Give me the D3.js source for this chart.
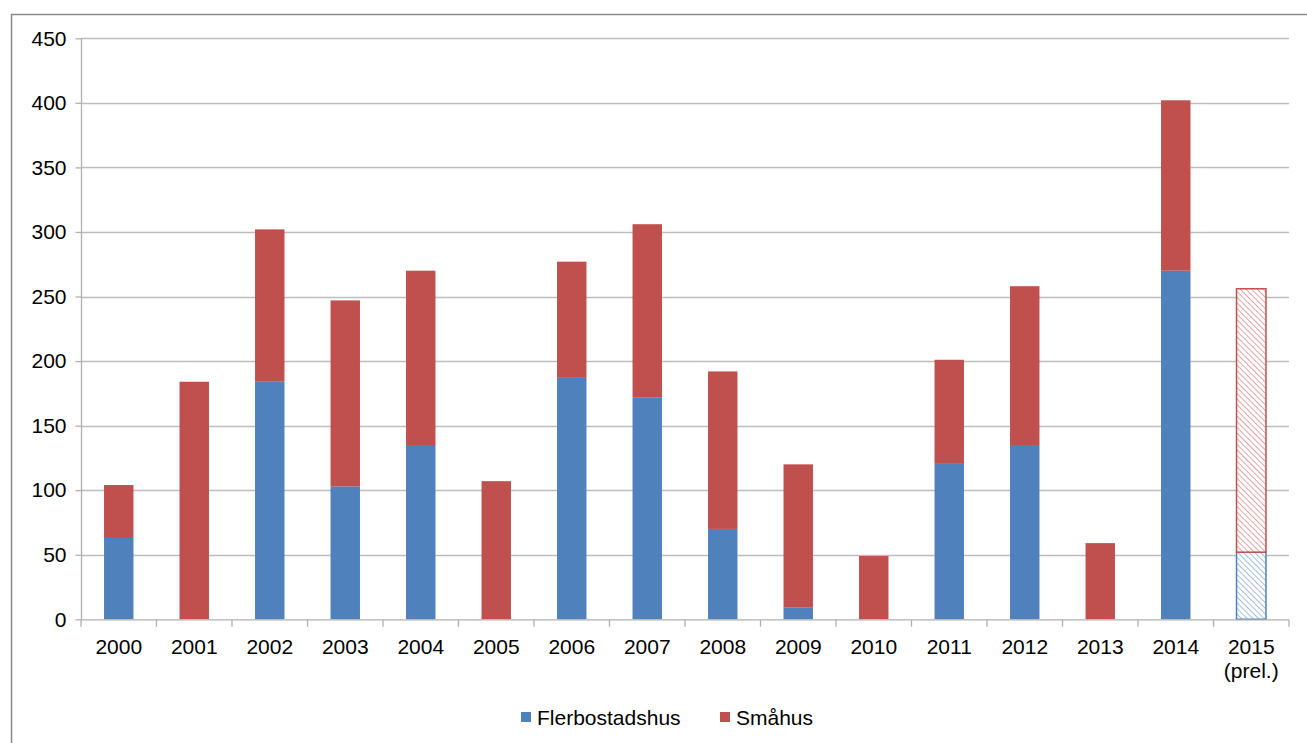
<!DOCTYPE html>
<html>
<head>
<meta charset="utf-8">
<script src="https://cdn.jsdelivr.net/npm/d3@7"></script>
<style>
  body { margin: 0; background: #fff; }
  svg text { font-family: "Liberation Sans", Arial, sans-serif; fill: #000; }
</style>
</head>
<body>
<svg width="1307" height="743"></svg>
<script>
var years = ["2000","2001","2002","2003","2004","2005","2006","2007","2008","2009","2010","2011","2012","2013","2014","2015"];
var flerbostadshus = [63, 0, 184, 103, 135, 0, 187, 172, 70, 9, 0, 121, 135, 0, 270, 52];
var smahus = [41, 184, 118, 144, 135, 107, 90, 134, 122, 111, 49, 80, 123, 59, 132, 204];
var prelYear = "2015";
var yTicks = [0, 50, 100, 150, 200, 250, 300, 350, 400, 450];

var blue = "#4F81BD", red = "#C0504D";

var svg = d3.select("svg");

// outer frame
svg.append("rect")
    .attr("x", 11.5).attr("y", 14.5)
    .attr("width", 1310).attr("height", 740)
    .attr("fill", "none")
    .attr("stroke", "#8a8a8a")
    .attr("stroke-width", 1.5);

var plotL = 81, plotR = 1289, plotT = 38.3, plotB = 619.3;

var x = d3.scaleBand().domain(years).range([plotL, plotR]).paddingInner(0.61).paddingOuter(0.305);
var xb = d3.scaleBand().domain(years).range([plotL, plotR]);
var y = d3.scaleLinear().domain([0, 450]).range([plotB, plotT]);

// hatch patterns
var defs = svg.append("defs");
function hatch(id, col) {
  var p = defs.append("pattern")
      .attr("id", id)
      .attr("patternUnits", "userSpaceOnUse")
      .attr("width", 4).attr("height", 4)
      .attr("patternTransform", "rotate(-45)");
  p.append("rect").attr("width", 4).attr("height", 4).attr("fill", "#fff");
  p.append("line").attr("x1", 0).attr("y1", 0).attr("x2", 0).attr("y2", 4)
      .attr("stroke", col).attr("stroke-width", 1.4).attr("stroke-opacity", 0.75);
}
hatch("hatchBlue", blue);
hatch("hatchRed", red);

// gridlines
svg.append("g").selectAll("line")
    .data(yTicks.filter(function(d) { return d > 0; }))
    .enter().append("line")
      .attr("x1", plotL).attr("x2", plotR)
      .attr("y1", function(d) { return Math.round(y(d)) + 0.5; })
      .attr("y2", function(d) { return Math.round(y(d)) + 0.5; })
      .attr("stroke", "#bdbdbd").attr("stroke-width", 1.3);

// y axis
var yAxis = svg.append("g")
    .attr("transform", "translate(" + (plotL + 0.5) + ",0)")
    .call(d3.axisLeft(y).tickValues(yTicks).tickSize(6).tickPadding(9));
yAxis.selectAll("text").style("font-size", "21px");
yAxis.selectAll("line, path").attr("stroke", "#b0b0b0").attr("stroke-width", 1.3);
yAxis.select("path").attr("d", "M0," + plotT + "V" + plotB);

// stacks
var rows = years.map(function(yr, i) {
  return { year: yr, fler: flerbostadshus[i], sma: smahus[i] };
});
var stack = d3.stack().keys(["fler", "sma"]);
var series = stack(rows);

var gBars = svg.append("g");
series.forEach(function(s) {
  var col = s.key === "fler" ? blue : red;
  var hid = s.key === "fler" ? "url(#hatchBlue)" : "url(#hatchRed)";
  gBars.append("g").selectAll("rect")
    .data(s.filter(function(d) { return d[1] - d[0] > 0; }))
    .enter().append("rect")
      .attr("x", function(d) { return x(d.data.year); })
      .attr("width", x.bandwidth())
      .attr("y", function(d) { return y(d[1]); })
      .attr("height", function(d) { return y(d[0]) - y(d[1]); })
      .attr("fill", function(d) { return d.data.year === prelYear ? hid : col; })
      .attr("stroke", function(d) { return d.data.year === prelYear ? col : "none"; })
      .attr("stroke-width", 1.5);
});

// x axis
var xAxis = svg.append("g")
    .attr("transform", "translate(0," + (plotB + 0.5) + ")");
xAxis.append("line")
    .attr("x1", plotL).attr("x2", plotR)
    .attr("stroke", "#b0b0b0").attr("stroke-width", 1.3);
xAxis.selectAll(".tk")
    .data(years.concat(["end"]))
    .enter().append("line")
      .attr("x1", function(d, i) { return plotL + i * xb.bandwidth(); })
      .attr("x2", function(d, i) { return plotL + i * xb.bandwidth(); })
      .attr("y1", 0).attr("y2", 7)
      .attr("stroke", "#b0b0b0").attr("stroke-width", 1.3);
xAxis.selectAll("text.lbl")
    .data(years)
    .enter().append("text")
      .attr("x", function(d) { return xb(d) + xb.bandwidth() / 2; })
      .attr("y", 34)
      .attr("text-anchor", "middle")
      .style("font-size", "21px")
      .text(function(d) { return d; });
xAxis.append("text")
    .attr("x", xb(prelYear) + xb.bandwidth() / 2)
    .attr("y", 58)
    .attr("text-anchor", "middle")
    .style("font-size", "21px")
    .text("(prel.)");

// legend
var legend = [
  { name: "Flerbostadshus", color: blue, x: 521 },
  { name: "Småhus", color: red, x: 720 }
];
var lg = svg.append("g");
legend.forEach(function(d) {
  lg.append("rect").attr("x", d.x).attr("y", 712).attr("width", 10).attr("height", 10).attr("fill", d.color);
  lg.append("text").attr("x", d.x + 16).attr("y", 725).style("font-size", "21px").text(d.name);
});
</script>
</body>
</html>
